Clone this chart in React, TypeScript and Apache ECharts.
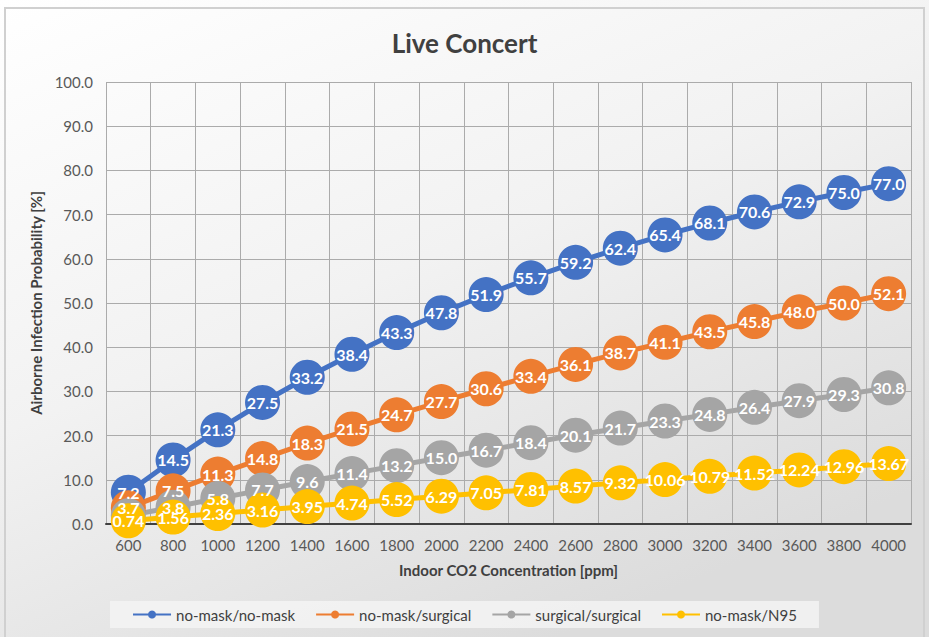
import React, { useEffect, useRef } from "react";
import * as echarts from "echarts";

const categories = ["600","800","1000","1200","1400","1600","1800","2000","2200","2400","2600","2800","3000","3200","3400","3600","3800","4000"];
const noMaskNoMask = [7.2,14.5,21.3,27.5,33.2,38.4,43.3,47.8,51.9,55.7,59.2,62.4,65.4,68.1,70.6,72.9,75.0,77.0];
const noMaskSurgical = [3.7,7.5,11.3,14.8,18.3,21.5,24.7,27.7,30.6,33.4,36.1,38.7,41.1,43.5,45.8,48.0,50.0,52.1];
const surgicalSurgical = [1.9,3.8,5.8,7.7,9.6,11.4,13.2,15.0,16.7,18.4,20.1,21.7,23.3,24.8,26.4,27.9,29.3,30.8];
const noMaskN95 = [0.74,1.56,2.36,3.16,3.95,4.74,5.52,6.29,7.05,7.81,8.57,9.32,10.06,10.79,11.52,12.24,12.96,13.67];

const seriesNames = ["no-mask/no-mask","no-mask/surgical","surgical/surgical","no-mask/N95"];
const seriesColors = ["#4472C4","#ED7D31","#A5A5A5","#FFC000"];
const seriesDecimals = [1,1,1,2];
const hiddenLabels: number[][] = [[],[],[0],[]];

const FONT = "Lato, 'Open Sans', sans-serif";

export default function App() {
  const ref = useRef<HTMLDivElement>(null);
  useEffect(() => {
    if (!ref.current) return;
    const chart = echarts.init(ref.current, null, { renderer: "svg" });
    const all = [noMaskNoMask, noMaskSurgical, surgicalSurgical, noMaskN95];
    const series = all.map((vals, i) => ({
      name: seriesNames[i],
      type: "line",
      data: vals.map((v, j) => hiddenLabels[i].includes(j) ? { value: v, label: { show: false } } : v),
      symbol: "circle",
      symbolSize: 35,
      showAllSymbol: true,
      lineStyle: { color: seriesColors[i], width: 5 },
      itemStyle: { color: seriesColors[i] },
      labelLayout: { hideOverlap: false },
      label: {
        show: true,
        position: "inside",
        color: "#ffffff",
        fontWeight: "bold",
        fontSize: 16,
        fontFamily: FONT,
        formatter: (p: any) => Number(p.value).toFixed(seriesDecimals[i]),
      },
      emphasis: { disabled: true },
    }));
    chart.setOption({
      animation: false,
      backgroundColor: {
        type: "linear", x: 0, y: 0, x2: 0.6, y2: 1,
        colorStops: [
          { offset: 0, color: "#ffffff" },
          { offset: 0.5, color: "#f2f2f2" },
          { offset: 1, color: "#dcdcdc" },
        ],
      },
      title: {
        text: "Live Concert",
        left: "center",
        top: 25,
        textStyle: { fontFamily: FONT, fontSize: 26, fontWeight: "bold", color: "#404040" },
      },
      graphic: [
        { type: "rect", shape: { x: 5, y: 8, width: 919, height: 640 }, style: { fill: "none", stroke: "#d0d0d0", lineWidth: 2 }, silent: true },
      ],
      legend: {
        bottom: 9,
        left: "center",
        padding: [6, 22, 6, 22],
        backgroundColor: "rgba(245,245,245,0.8)",
        itemGap: 20,
        itemWidth: 38,
        itemHeight: 10,
        textStyle: { fontFamily: FONT, fontSize: 15, color: "#404040" },
        data: seriesNames,
      },
      grid: { left: 106, right: 18, top: 82, bottom: 113 },
      xAxis: {
        type: "category",
        data: categories,
        boundaryGap: true,
        name: "Indoor CO2 Concentration [ppm]",
        nameLocation: "middle",
        nameGap: 38,
        nameTextStyle: { fontFamily: FONT, fontSize: 15, fontWeight: "bold", color: "#404040" },
        axisLine: { lineStyle: { color: "#404040", width: 2 } },
        axisTick: { show: false },
        axisLabel: { fontFamily: FONT, fontSize: 15, color: "#595959", margin: 13, interval: 0 },
        splitLine: { show: true, interval: 0, lineStyle: { color: "#ababab", width: 1 } },
      },
      yAxis: {
        type: "value",
        min: 0,
        max: 100,
        interval: 10,
        name: "Airborne Infection Probability [%]",
        nameLocation: "middle",
        nameGap: 56,
        nameTextStyle: { fontFamily: FONT, fontSize: 15, fontWeight: "bold", color: "#404040" },
        axisLine: { show: false },
        axisTick: { show: false },
        axisLabel: { fontFamily: FONT, fontSize: 15, color: "#595959", margin: 13, formatter: (v: number) => v.toFixed(1) },
        splitLine: { show: true, lineStyle: { color: "#ababab", width: 1 } },
      },
      series,
    });
    return () => chart.dispose();
  }, []);
  return <div ref={ref} style={{ position: "fixed", left: 0, top: 0, width: 929, height: 637 }} />;
}
